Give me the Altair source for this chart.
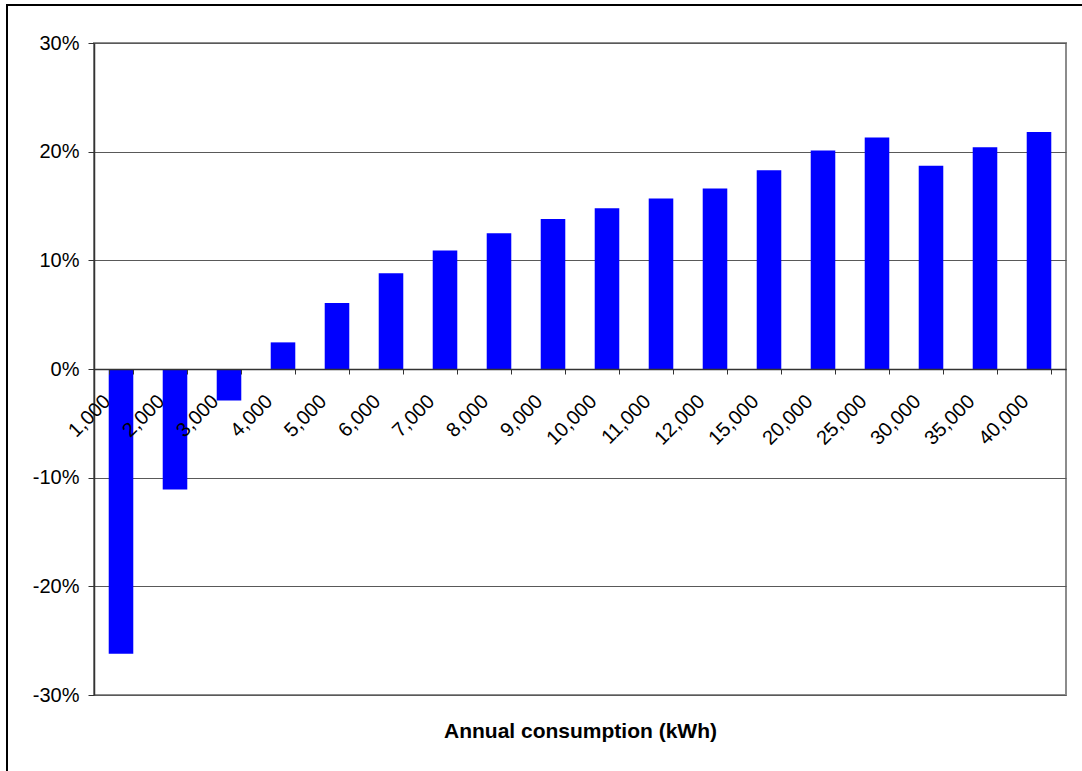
import altair as alt
import pandas as pd

categories = ["1,000", "2,000", "3,000", "4,000", "5,000", "6,000", "7,000", "8,000", "9,000",
              "10,000", "11,000", "12,000", "15,000", "20,000", "25,000", "30,000", "35,000", "40,000"]
values = [-0.262, -0.111, -0.029, 0.0245, 0.0607, 0.088, 0.109, 0.125, 0.138,
          0.148, 0.157, 0.166, 0.183, 0.201, 0.213, 0.187, 0.204, 0.218]
y_ticks = [-0.3, -0.2, -0.1, 0.0, 0.1, 0.2, 0.3]

df = pd.DataFrame({"consumption": categories, "change": values})

W, H = 972, 652
FONT = "Liberation Sans"

bars = alt.Chart(df).mark_bar(color="#0000FF").encode(
    x=alt.X("consumption:N", sort=None,
            scale=alt.Scale(paddingInner=0.545, paddingOuter=0.2725),
            axis=alt.Axis(title="Annual consumption (kWh)", offset=-H / 2, zindex=1,
                          labelAngle=-45, labelAlign="right", labelBaseline="middle",
                          labelFont=FONT, labelFontSize=20, labelColor="black",
                          labelPadding=24, labelOffset=-14,
                          tickBand="extent", ticks=True, tickSize=5, tickColor="#333333",
                          domainColor="#333333", domainWidth=1.5,
                          titleFont=FONT, titleFontSize=21, titleFontWeight="bold",
                          titleColor="black", titleX=W / 2, titleY=362,
                          titleBaseline="middle", titleAlign="center")),
    y=alt.Y("change:Q",
            scale=alt.Scale(domain=[-0.3, 0.3], nice=False, zero=False),
            axis=alt.Axis(title=None, values=y_ticks,
                          labelExpr="replace(format(datum.value, '.0%'), '\u2212', '-')",
                          labelFont=FONT, labelFontSize=20, labelColor="black",
                          labelPadding=9, tickSize=6, tickColor="#333333",
                          domainColor="#333333", domainWidth=1.5,
                          grid=True, gridColor="#595959", gridWidth=1)),
)

frame = alt.Chart(df).mark_rect(fill=None, stroke="black", strokeWidth=2).encode(
    x=alt.value(-87), x2=alt.value(1010), y=alt.value(-38), y2=alt.value(745)
)

chart = alt.layer(bars, frame).properties(
    width=W, height=H,
    autosize=alt.AutoSizeParams(type="none"),
    padding={"left": 94, "top": 43, "right": 16, "bottom": 76},
).configure_view(stroke="#8c8c8c", strokeWidth=2)

chart.save("out.html", embed_options={"renderer": "svg", "actions": False})
